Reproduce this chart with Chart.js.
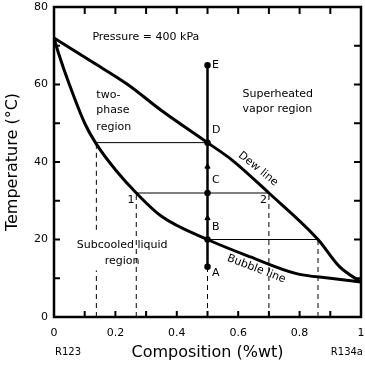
<!DOCTYPE html>
<html>
<head>
<meta charset="utf-8">
<script src="https://cdn.jsdelivr.net/npm/chart.js@4"></script>
<style>
  html, body { margin: 0; padding: 0; background: #fff; overflow: hidden; }
  #wrap { width: 365px; height: 365px; }
  canvas { display: block; }
</style>
</head>
<body>
<div id="wrap"><canvas id="graphique"></canvas></div>
<script>
// dew line (saturated vapor) and bubble line (saturated liquid)
const dewX = [0, 0.125, 0.24, 0.35, 0.5, 0.58, 0.7, 0.86, 0.93, 1];
const dewT = [72, 65.8, 60, 53.3, 45, 40.5, 32, 20, 13, 9];
const bubbleX = [0, 0.015, 0.05, 0.1, 0.138, 0.2, 0.268, 0.35, 0.5, 0.64, 0.79, 0.9, 1];
const bubbleT = [72, 68, 60, 50, 44.6, 38, 32, 26, 20, 15.5, 11.2, 10, 9];

// heating path at 50 %wt, from A to E
const pathX = 0.5;
const pathNames = ["A", "B", "C", "D", "E"];
const pathT = [13, 20, 32, 45, 65];
const arrowT = [25.5, 38.8];

// tie lines : temperature, liquid side, vapor side
const tieT = [45, 32, 20];
const tieLiq = [0.138, 0.268, 0.5];
const tieVap = [0.5, 0.7, 0.86];

// dashed drop lines to the axis
const dropX = [0.138, 0.138, 0.268, 0.5, 0.7, 0.86];
const dropFrom = [0, 22.5, 0, 0, 0, 0];
const dropTo = [12, 44.6, 32, 13, 32, 20];

const xTicks = [0, 0.2, 0.4, 0.6, 0.8, 1];
const yTicks = [0, 20, 40, 60, 80];

const toPts = (xs, ys) => xs.map((x, i) => ({ x: x, y: ys[i] }));

const datasets = [];
// dashed lines
for (let i = 0; i < dropX.length; i++) {
  datasets.push({
    data: [{ x: dropX[i], y: dropFrom[i] }, { x: dropX[i], y: dropTo[i] }],
    borderColor: "#000", borderWidth: 1, borderDash: [5, 4], pointRadius: 0
  });
}
// tie lines
for (let i = 0; i < tieT.length; i++) {
  datasets.push({
    data: [{ x: tieLiq[i], y: tieT[i] }, { x: tieVap[i], y: tieT[i] }],
    borderColor: "#000", borderWidth: 1, pointRadius: 0
  });
}
datasets.push({
  data: toPts(dewX, dewT), borderColor: "#000", borderWidth: 3, pointRadius: 0,
  cubicInterpolationMode: "monotone"
});
datasets.push({
  data: toPts(bubbleX, bubbleT), borderColor: "#000", borderWidth: 3, pointRadius: 0,
  cubicInterpolationMode: "monotone"
});
// vertical path with the state points
datasets.push({
  data: pathT.map(t => ({ x: pathX, y: t })),
  borderColor: "#000", borderWidth: 2.5,
  pointRadius: 2, pointBackgroundColor: "#000", pointBorderColor: "#000"
});
// arrow heads
datasets.push({
  data: arrowT.map(t => ({ x: pathX, y: t })),
  showLine: false, pointStyle: "triangle", pointRadius: 3,
  pointBackgroundColor: "#000", pointBorderColor: "#000"
});

// texts placed in data units
const notes = [
  { t: "Pressure = 400 kPa", x: 0.125, y: 72.3, align: "left" },
  { t: "two-", x: 0.138, y: 57.3, align: "left" },
  { t: "phase", x: 0.138, y: 53.4, align: "left" },
  { t: "region", x: 0.138, y: 49.0, align: "left" },
  { t: "Superheated", x: 0.614, y: 57.5, align: "left" },
  { t: "vapor region", x: 0.614, y: 53.6, align: "left" },
  { t: "Subcooled liquid", x: 0.222, y: 18.6, align: "center" },
  { t: "region", x: 0.222, y: 14.3, align: "center" },
  { t: "1", x: 0.262, y: 30.2, align: "right" },
  { t: "2", x: 0.694, y: 30.2, align: "right" },
  { t: "Dew line", x: 0.665, y: 38.2, align: "center", rot: 39 },
  { t: "Bubble line", x: 0.659, y: 12.4, align: "center", rot: 21 }
];
for (let i = 0; i < pathNames.length; i++) {
  const dy = [-1.8, 3.2, 3.2, 3.2, 0][i];
  notes.push({ t: pathNames[i], x: 0.515, y: pathT[i] + dy, align: "left" });
}

const cadre = {
  id: "cadre",
  afterDatasetsDraw(chart) {
    const ctx = chart.ctx;
    const a = chart.chartArea;
    const sx = chart.scales.x, sy = chart.scales.y;
    ctx.save();
    ctx.strokeStyle = "#000";
    // inward ticks on the four sides
    ctx.lineWidth = 2;
    for (let v = 1; v < 10; v++) {
      const px = sx.getPixelForValue(v / 10);
      ctx.beginPath();
      ctx.moveTo(px, a.bottom); ctx.lineTo(px, a.bottom - 6);
      ctx.moveTo(px, a.top); ctx.lineTo(px, a.top + 7);
      ctx.stroke();
    }
    for (let v = 10; v < 80; v += 10) {
      const py = sy.getPixelForValue(v);
      ctx.beginPath();
      ctx.moveTo(a.left, py); ctx.lineTo(a.left + 6, py);
      ctx.moveTo(a.right, py); ctx.lineTo(a.right - 7, py);
      ctx.stroke();
    }
    ctx.lineWidth = 2.5;
    ctx.strokeRect(a.left, a.top, a.right - a.left, a.bottom - a.top);

    ctx.fillStyle = "#000";
    ctx.textBaseline = "middle";
    ctx.font = "11px 'DejaVu Sans'";
    for (const n of notes) {
      const px = sx.getPixelForValue(n.x), py = sy.getPixelForValue(n.y);
      ctx.save();
      ctx.translate(px, py);
      if (n.rot) ctx.rotate(n.rot * Math.PI / 180);
      ctx.textAlign = n.align;
      ctx.fillText(n.t, 0, 0);
      ctx.restore();
    }
    ctx.font = "10px 'DejaVu Sans'";
    ctx.textAlign = "left";
    ctx.fillText("R123", a.left + 1, 352);
    ctx.textAlign = "right";
    ctx.fillText("R134a", chart.width - 2, 352);
    ctx.restore();
  }
};

new Chart(document.querySelector("#graphique"), {
  type: "scatter",
  data: { datasets: datasets },
  options: {
    responsive: true,
    maintainAspectRatio: false,
    animation: false,
    showLine: true,
    layout: { autoPadding: false, padding: { top: 7, right: 4, left: 0, bottom: 0 } },
    plugins: { legend: { display: false }, tooltip: { enabled: false } },
    scales: {
      x: {
        type: "linear", min: 0, max: 1,
        afterBuildTicks: s => { s.ticks = xTicks.map(v => ({ value: v })); },
        afterFit: s => { s.height = 48; s.paddingLeft = 0; s.paddingRight = 0; },
        grid: { display: false, drawTicks: false },
        border: { display: false },
        ticks: {
          padding: 10, color: "#000", font: { family: "DejaVu Sans", size: 11 },
          callback: v => String(Math.round(v * 10) / 10)
        },
        title: {
          display: true, text: "Composition (%wt)", color: "#000",
          font: { family: "DejaVu Sans", size: 16 }, padding: { top: 0, bottom: 3 }
        }
      },
      y: {
        type: "linear", min: 0, max: 80,
        afterBuildTicks: s => { s.ticks = yTicks.map(v => ({ value: v })); },
        afterFit: s => { s.width = 54; s.paddingTop = 0; s.paddingBottom = 0; },
        grid: { display: false, drawTicks: false },
        border: { display: false },
        ticks: { padding: 6, color: "#000", font: { family: "DejaVu Sans", size: 11 } },
        title: {
          display: true, text: "Temperature (°C)", color: "#000",
          font: { family: "DejaVu Sans", size: 16 }, padding: { top: 3, bottom: 0 }
        }
      }
    }
  },
  plugins: [cadre]
});
</script>
</body>
</html>
